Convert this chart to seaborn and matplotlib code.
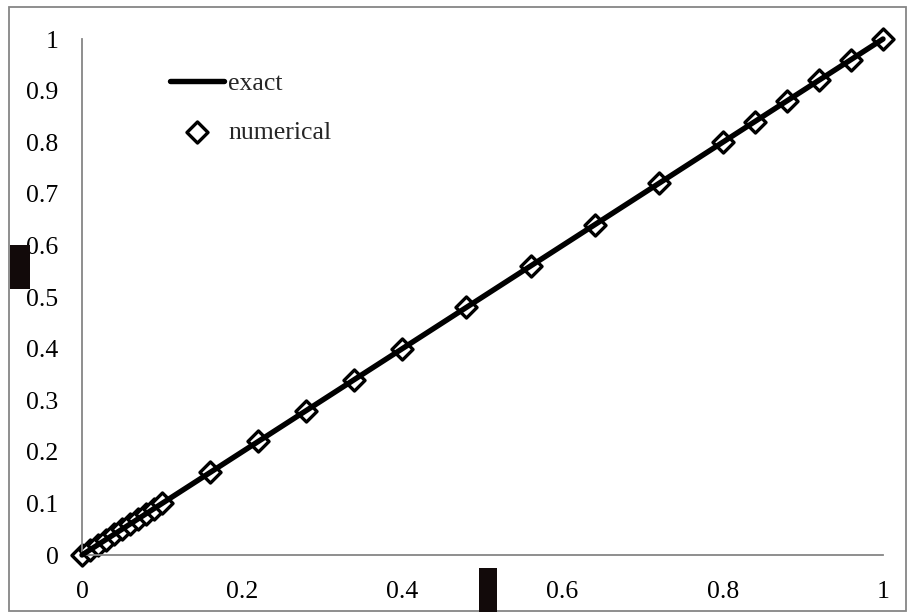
import numpy as np
import pandas as pd
import matplotlib
matplotlib.use("Agg")
import matplotlib.pyplot as plt
from matplotlib.patches import Rectangle
import seaborn as sns

# Solution values
x_exact = [0.0, 1.0]
y_exact = [0.0, 1.0]
x_num = [0.0, 0.01, 0.02, 0.03, 0.04, 0.05, 0.06, 0.07, 0.08, 0.09, 0.10,
         0.16, 0.22, 0.28, 0.34, 0.40, 0.48, 0.56, 0.64, 0.72,
         0.80, 0.84, 0.88, 0.92, 0.96, 1.0]
y_num = [0.0, 0.01, 0.02, 0.03, 0.04, 0.05, 0.06, 0.07, 0.08, 0.09, 0.10,
         0.16, 0.22, 0.28, 0.34, 0.40, 0.48, 0.56, 0.64, 0.72,
         0.80, 0.84, 0.88, 0.92, 0.96, 1.0]
x_ticks = [0, 0.2, 0.4, 0.6, 0.8, 1]
x_tick_labels = ["0", "0.2", "0.4", "0.6", "0.8", "1"]
y_ticks = [0, 0.1, 0.2, 0.3, 0.4, 0.5, 0.6, 0.7, 0.8, 0.9, 1]
y_tick_labels = ["0", "0.1", "0.2", "0.3", "0.4", "0.5", "0.6", "0.7", "0.8", "0.9", "1"]

sns.set_style("white")
plt.rcParams["font.family"] = ["Liberation Serif", "DejaVu Serif"]

W, H = 907, 612
FS = 18.5
fig = plt.figure(figsize=(W / 100, H / 100), dpi=100)
ax = fig.add_axes([82 / W, 1 - 555 / H, (883 - 82) / W, (555 - 39) / H])

exact = pd.DataFrame({"x": x_exact, "y": y_exact})
num = pd.DataFrame({"x": x_num, "y": y_num})

sns.scatterplot(data=num, x="x", y="y", ax=ax, marker="D", s=115,
                facecolor="white", edgecolor="black", linewidth=2.4,
                label="numerical", zorder=2)
sns.lineplot(data=exact, x="x", y="y", ax=ax, color="black", linewidth=3.9,
             label="exact", zorder=3)

ax.set_xlim(0, 1)
ax.set_ylim(0, 1)
ax.set_xticks(x_ticks)
ax.set_xticklabels(x_tick_labels)
ax.set_yticks(y_ticks)
ax.set_yticklabels(y_tick_labels)
ax.set_xlabel("")
ax.set_ylabel("")

spine_color = "#868686"
for side in ["top", "right"]:
    ax.spines[side].set_visible(False)
for side in ["left", "bottom"]:
    ax.spines[side].set_color(spine_color)
    ax.spines[side].set_linewidth(1.3)
ax.tick_params(axis="both", direction="out", length=6, width=1.3,
               color=spine_color, labelsize=FS, labelcolor="black")
ax.tick_params(axis="y", pad=11)
ax.tick_params(axis="x", pad=13)
for coll in ax.collections:
    coll.set_clip_on(False)
for ln in ax.lines:
    ln.set_clip_on(False)

handles, labels = ax.get_legend_handles_labels()
order = [labels.index("exact"), labels.index("numerical")]
ax.legend([handles[i] for i in order], [labels[i] for i in order],
          loc="upper left",
          bbox_to_anchor=((170 - 82) / (883 - 82), 1 - (72 - 39) / (555 - 39)),
          frameon=False, fontsize=FS, handlelength=2.1, handletextpad=0.17,
          labelspacing=1.02, borderaxespad=0, borderpad=0)

# Outer chart frame
fig.patches.append(Rectangle((9 / W, 1 - 611 / H), (906 - 9) / W, (611 - 7) / H,
                             transform=fig.transFigure, fill=False,
                             edgecolor=spine_color, linewidth=1.3))
# Axis title image placeholders
fig.patches.append(Rectangle((10 / W, 1 - 289 / H), 20 / W, 44 / H,
                             transform=fig.transFigure, facecolor="#120a0a",
                             edgecolor="none"))
fig.patches.append(Rectangle((479 / W, 1 - 612 / H), 18 / W, 44 / H,
                             transform=fig.transFigure, facecolor="#120a0a",
                             edgecolor="none"))

fig.savefig("out.png", dpi=100)
